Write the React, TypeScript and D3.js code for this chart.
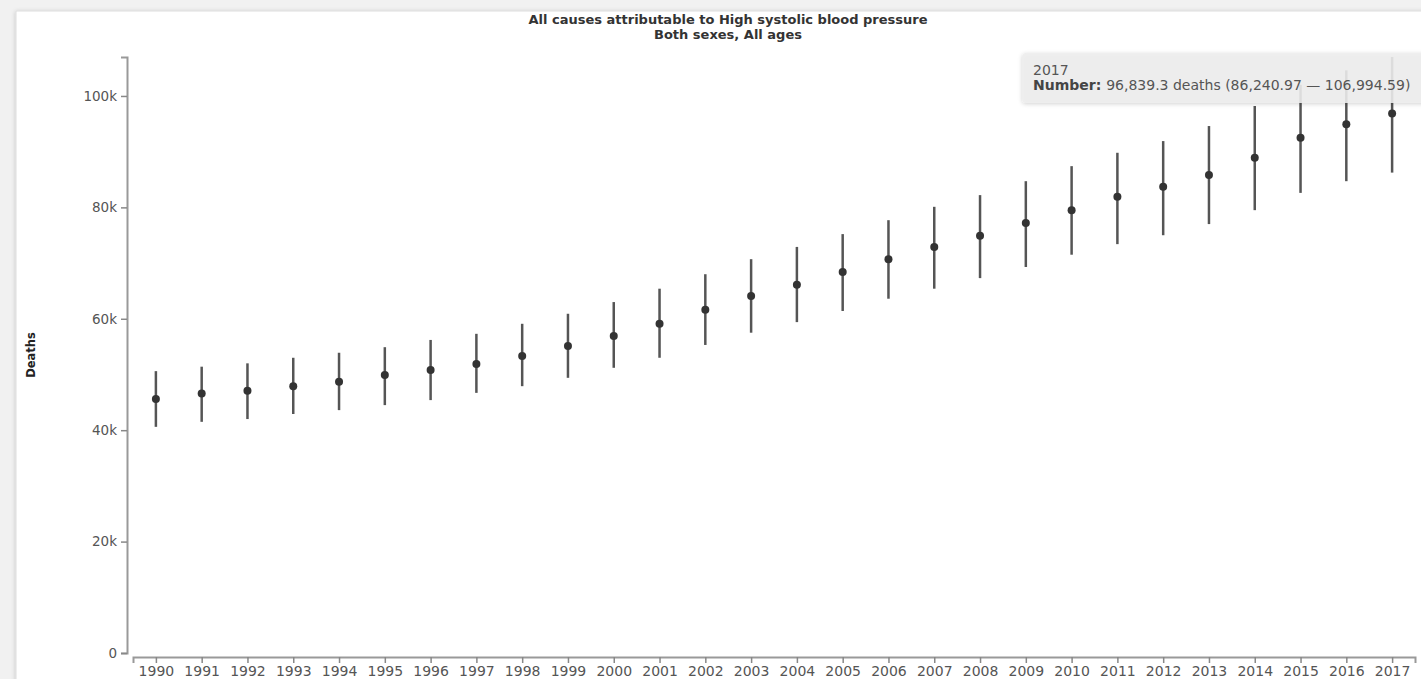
import React, { useEffect, useRef } from "react";
import * as d3 from "d3";

const years = [
  1990, 1991, 1992, 1993, 1994, 1995, 1996, 1997, 1998, 1999, 2000, 2001, 2002, 2003,
  2004, 2005, 2006, 2007, 2008, 2009, 2010, 2011, 2012, 2013, 2014, 2015, 2016, 2017,
];
const deaths = [
  45600, 46600, 47100, 47900, 48700, 49900, 50800, 51900, 53300, 55100, 56900, 59100, 61600, 64100,
  66100, 68400, 70700, 72900, 74900, 77200, 79500, 81900, 83700, 85800, 88900, 92500, 94900, 96839.3,
];
const lower = [
  40600, 41500, 42000, 42900, 43600, 44500, 45400, 46700, 47900, 49400, 51200, 53000, 55300, 57500,
  59400, 61400, 63600, 65400, 67300, 69300, 71500, 73400, 75000, 77000, 79500, 82600, 84700, 86240.97,
];
const upper = [
  50600, 51400, 52000, 53000, 53900, 54900, 56200, 57300, 59100, 60900, 63000, 65400, 68000, 70700,
  72900, 75200, 77700, 80100, 82200, 84700, 87400, 89800, 91900, 94600, 98200, 102000, 104600, 106994.59,
];
const yTicks = [0, 20000, 40000, 60000, 80000, 100000];

const W = 1421;
const H = 679;
const font = "'DejaVu Sans', Verdana, sans-serif";

const App = () => {
  const svgRef = useRef<SVGSVGElement>(null);

  useEffect(() => {
    const svg = d3.select(svgRef.current);
    svg.selectAll("*").remove();

    const defs = svg.append("defs");
    const shadow = defs.append("filter").attr("id", "shadow")
      .attr("x", "-10%").attr("y", "-30%").attr("width", "120%").attr("height", "160%");
    shadow.append("feDropShadow").attr("dx", 0).attr("dy", 1).attr("stdDeviation", 2)
      .attr("flood-color", "#000").attr("flood-opacity", 0.2);

    // page background + white panel
    svg.append("rect").attr("width", W).attr("height", H).attr("fill", "#f1f1f1");
    svg.append("rect").attr("x", 16).attr("y", 11).attr("width", W).attr("height", H)
      .attr("fill", "#fff").attr("stroke", "#ddd").attr("filter", "url(#shadow)");

    const x = d3.scalePoint<number>().domain(years).range([133, 1415]).padding(0.5);
    const y = d3.scaleLinear().domain([0, d3.max(upper) as number]).range([653, 57]);

    // title
    const title = svg.append("text").attr("x", 728).attr("text-anchor", "middle")
      .style("font-family", font).style("font-size", "13px").style("font-weight", "bold").attr("fill", "#333");
    title.append("tspan").attr("x", 728).attr("y", 24).text("All causes attributable to High systolic blood pressure");
    title.append("tspan").attr("x", 728).attr("y", 39).text("Both sexes, All ages");

    svg.append("text")
      .attr("transform", "rotate(-90)")
      .attr("x", -355).attr("y", 35)
      .attr("text-anchor", "middle")
      .style("font-family", font).style("font-size", "11.5px").style("font-weight", "bold")
      .attr("fill", "#222")
      .text("Deaths");

    const yAxis = svg.append("g")
      .attr("transform", "translate(127,0)")
      .call(d3.axisLeft(y).tickValues(yTicks).tickFormat(d3.format("~s")).tickSize(6).tickPadding(4));
    const xAxis = svg.append("g")
      .attr("transform", "translate(0,657)")
      .call(d3.axisBottom(x).tickSize(6).tickPadding(3));

    [yAxis, xAxis].forEach(g => {
      g.select(".domain").attr("stroke", "#999").attr("stroke-width", 2);
      g.selectAll(".tick line").attr("stroke", "#888").attr("stroke-width", 1.5);
      g.selectAll(".tick text").attr("fill", "#555").style("font-family", font);
    });
    yAxis.selectAll(".tick text").style("font-size", "13.5px");
    xAxis.selectAll(".tick text").style("font-size", "14px");

    // error bars
    svg.append("g").selectAll("line").data(years).join("line")
      .attr("x1", d => x(d) as number).attr("x2", d => x(d) as number)
      .attr("y1", (_, i) => y(lower[i])).attr("y2", (_, i) => y(upper[i]))
      .attr("stroke", "#555").attr("stroke-width", 2.5);

    svg.append("g").selectAll("circle").data(years).join("circle")
      .attr("cx", d => x(d) as number)
      .attr("cy", (_, i) => y(deaths[i]))
      .attr("r", 4)
      .attr("fill", "#333");

    // tooltip for 2017
    const last = years.length - 1;
    const fmt1 = d3.format(",.1f");
    const fmt2 = d3.format(",.2f");
    const tip = svg.append("g").attr("transform", "translate(1022,53)");
    tip.append("rect").attr("width", 420).attr("height", 50).attr("rx", 4)
      .attr("fill", "#eee").attr("fill-opacity", 0.88).attr("filter", "url(#shadow)");
    tip.append("text").attr("x", 11).attr("y", 22)
      .style("font-family", font).style("font-size", "14px").attr("fill", "#555")
      .text(String(years[last]));
    const line2 = tip.append("text").attr("x", 11).attr("y", 37)
      .style("font-family", font).style("font-size", "14px").attr("fill", "#555");
    line2.append("tspan").style("font-weight", "bold").attr("fill", "#444").text("Number: ");
    line2.append("tspan")
      .text(`${fmt1(deaths[last])} deaths (${fmt2(lower[last])} \u2014 ${fmt2(upper[last])})`);
  }, []);

  return (
    <>
      <style>{`body{margin:0}`}</style>
      <svg ref={svgRef} width={W} height={H} style={{ display: "block" }}></svg>
    </>
  );
};

export default App;
